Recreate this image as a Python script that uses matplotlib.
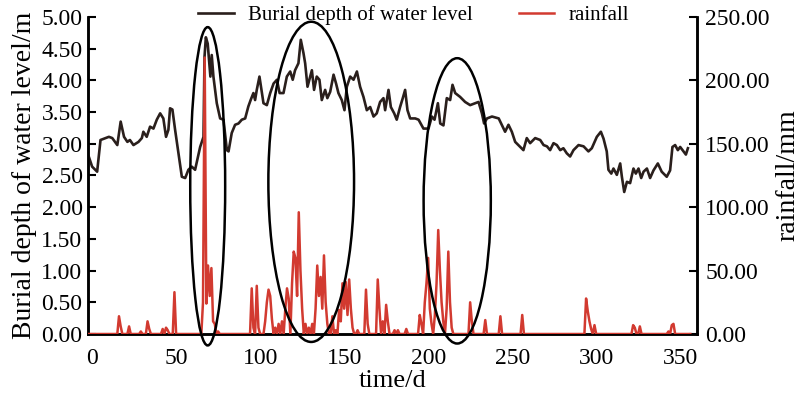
import numpy as np
import matplotlib
matplotlib.use("Agg")
import matplotlib.pyplot as plt
from matplotlib.patches import Ellipse

plt.rcParams['font.family'] = ['Liberation Serif', 'DejaVu Serif']

# Burial depth of water level (m)
wl_days = [-2, 0, 3, 5, 10, 12, 15, 17, 19, 21, 22.5, 24.6, 27.6, 29.6, 30.5, 32.5, 34.5, 36.5,
           38.5, 40.5, 42.4, 44, 45.4, 46.4, 47.8, 49.4, 51.4, 53.4, 55.4, 57.3, 59.3, 61.3,
           64.3, 66.3, 66.9, 67.7, 68.8, 69.6, 70.4, 71.2, 72.2, 74.2, 76.2, 78.2, 80.2, 81.2,
           83.1, 85.1, 87.1, 89.1, 91.1, 93, 94.5, 96, 97, 98, 99.6, 102, 104, 106, 108, 110,
           111.6, 113.9, 115.9, 117.9, 119.4, 120.8, 122.8, 124.2, 125.8, 126.8, 128.2, 129.8,
           130.8, 132.1, 133.7, 135.3, 136.7, 138.7, 140, 141.7, 143.7, 145.2, 146.6, 148.6,
           150.2, 151.6, 153.6, 155.6, 157.6, 159.5, 161.5, 163.5, 165.5, 167.5, 169.4, 171.4,
           173.4, 174.4, 176.4, 177.8, 179.8, 181.3, 183.3, 184.9, 186.3, 187.7, 189.3, 192.3,
           194.3, 197.2, 200.2, 202.2, 203.8, 205.8, 207.2, 209.1, 211.1, 213.1, 214.5, 216.1,
           219, 222, 225, 228, 230, 232, 233.3, 235, 238, 242, 243.8, 245.8, 247.8, 249.8,
           251.8, 254.8, 256.7, 258.7, 260.7, 263.7, 266.7, 268.7, 270.7, 272.6, 274.6, 276.6,
           278.6, 280.5, 282.5, 284.5, 286.5, 289.5, 292.5, 295.4, 297.4, 300.4, 302.8, 304.4,
           306.3, 307.3, 309, 310.3, 312.3, 314.3, 315.3, 316.7, 318.3, 320.2, 322.2, 323.6,
           325.2, 326.8, 328.2, 330.2, 332.1, 334.1, 336.7, 339, 342, 344, 345.4, 347, 348.6,
           350, 352, 353.4, 354.6]
wl_vals = [2.80, 2.64, 2.56, 3.06, 3.11, 3.09, 2.98, 3.35, 3.11, 3.03, 3.06, 2.98, 3.03, 3.09,
           3.19, 3.11, 3.27, 3.24, 3.38, 3.48, 3.40, 3.11, 3.22, 3.56, 3.54, 3.22, 2.85, 2.48,
           2.46, 2.59, 2.64, 2.59, 2.95, 3.11, 4.37, 4.68, 4.58, 4.32, 4.06, 4.40, 4.06, 3.64,
           3.40, 3.38, 2.90, 2.88, 3.17, 3.30, 3.32, 3.38, 3.40, 3.59, 3.70, 3.80, 3.69, 3.85,
           4.06, 3.64, 3.61, 3.80, 3.95, 4.01, 3.80, 3.80, 4.06, 4.14, 4.01, 4.16, 4.27, 4.64,
           4.43, 4.27, 3.90, 4.06, 4.16, 3.85, 4.06, 4.01, 3.69, 3.85, 3.72, 3.82, 4.09, 3.95,
           3.80, 3.69, 3.53, 3.90, 4.06, 4.01, 4.14, 3.90, 3.74, 3.53, 3.58, 3.43, 3.48, 3.66,
           3.72, 3.53, 3.85, 3.58, 3.48, 3.38, 3.58, 3.72, 3.85, 3.53, 3.40, 3.40, 3.38, 3.24,
           3.24, 3.43, 3.38, 3.64, 3.32, 3.29, 3.72, 3.69, 3.93, 3.80, 3.74, 3.66, 3.61, 3.64,
           3.66, 3.48, 3.32, 3.40, 3.43, 3.40, 3.30, 3.19, 3.30, 3.19, 3.03, 2.95, 2.90, 3.09,
           3.01, 3.09, 3.06, 2.98, 2.96, 2.90, 3.01, 2.98, 2.90, 2.93, 2.85, 2.80, 2.90, 2.98,
           2.96, 2.88, 2.93, 3.11, 3.19, 3.08, 2.88, 2.59, 2.53, 2.61, 2.51, 2.69, 2.48, 2.24,
           2.40, 2.38, 2.61, 2.53, 2.61, 2.46, 2.56, 2.61, 2.46, 2.58, 2.69, 2.56, 2.48, 2.58,
           2.95, 2.98, 2.90, 2.95, 2.88, 2.83, 2.93]

# Rainfall events (day, mm); all other days zero
rain_days = [16, 17, 22, 29, 33, 34, 42, 44, 45, 49,
             66, 67, 68, 69, 70, 71, 72, 73, 75,
             95, 96, 98, 99, 103, 104, 105, 106, 107, 109, 111, 113, 115, 116, 117, 119, 120,
             121, 122, 123, 124, 125, 127, 129, 131, 133, 134, 135, 136, 137, 138, 139, 140,
             143, 145, 147, 148, 149, 150, 151, 152, 153, 154, 155, 158, 163, 164, 170, 171,
             173, 175, 176, 180, 182, 187, 195, 196, 198, 199, 200, 201, 202, 204, 205, 206,
             207, 208, 209, 211, 212, 213, 214, 225, 226, 234, 243, 256,
             294, 295, 296, 297, 299, 322, 323, 326, 343, 345, 346]
rain_mm = [14, 6, 6, 2, 10, 4, 4, 5, 3, 33,
           25, 218, 24, 54, 30, 52, 10, 8, 2,
           36, 5, 38, 5, 10, 25, 35, 30, 12, 5, 8, 10, 20, 36, 28, 40, 65,
           60, 30, 96, 50, 20, 8, 5, 8, 20, 54, 30, 45, 20, 62, 25, 8,
           14, 3, 19, 10, 40, 20, 41, 15, 43, 20, 5, 3, 35, 8, 43, 20,
           10, 23, 10, 3, 3, 4, 15, 8, 25, 40, 60, 20, 8, 15, 40, 82,
           50, 25, 10, 20, 65, 25, 5, 25, 10, 11, 14, 15,
           28, 18, 10, 4, 7, 7, 5, 6, 2, 7, 8]

# Highlight ellipses: (center day, center depth, width days, height m)
ell_cx = [68.8, 130.4, 217.3]
ell_cy = [2.33, 2.40, 2.10]
ell_w = [20.8, 51.0, 40.0]
ell_h = [5.02, 5.05, 4.50]

xticks = [0, 50, 100, 150, 200, 250, 300, 350]

fig = plt.figure(figsize=(8.08, 3.95), dpi=100)
ax = fig.add_axes([0.109, 0.1544, 0.7536, 0.8026])
ax2 = ax.twinx()

black = '#2a1f1c'
red = '#d23a30'

ax.plot(wl_days, wl_vals, color=black, lw=1.9, label='Burial depth of water level', zorder=3)

rain_x = np.arange(-2, 357)
rain_y = np.zeros(len(rain_x))
for d, v in zip(rain_days, rain_mm):
    rain_y[d + 2] = v
ax2.plot(rain_x, rain_y, color=red, lw=1.8, label='rainfall', zorder=3)

for cx, cy, w, h in zip(ell_cx, ell_cy, ell_w, ell_h):
    e = Ellipse((cx, cy), w, h, transform=ax.transData, fill=False,
                edgecolor='black', lw=1.8, clip_on=False, zorder=5)
    ax2.add_patch(e)

ax.set_xlim(-2.4, 360)
ax.set_ylim(0, 5)
ax2.set_ylim(0, 250)
ax.set_xticks(xticks)
ax.set_yticks(np.arange(0, 5.01, 0.5))
ax2.set_yticks(np.arange(0, 250.1, 50))
ax.set_yticklabels([f'{v:.2f}' for v in np.arange(0, 5.01, 0.5)])
ax2.set_yticklabels([f'{v:.2f}' for v in np.arange(0, 250.1, 50)])

for a in (ax, ax2):
    a.spines['top'].set_visible(False)
    for s in a.spines.values():
        s.set_linewidth(1.8)
        s.set_color('black')
ax.tick_params(axis='y', direction='in', length=6, width=1.5, labelsize=17, pad=4)
ax2.tick_params(axis='y', direction='in', length=6, width=1.5, labelsize=17, pad=6)
ax.tick_params(axis='x', length=0, labelsize=17, pad=10)

ax.set_xlabel('time/d', fontsize=19, labelpad=1)
ax.set_ylabel('Burial depth of water level/m', fontsize=20, labelpad=3)
ax2.set_ylabel('rainfall/mm', fontsize=20, labelpad=4)

h1, l1 = ax.get_legend_handles_labels()
h2, l2 = ax2.get_legend_handles_labels()
fig.legend(h1 + h2, l1 + l2, loc='upper left', bbox_to_anchor=(0.222, 1.035), ncol=2,
           frameon=False, fontsize=15, handlelength=1.7, handletextpad=0.7, columnspacing=2.2)

fig.savefig('out.png', dpi=100)
